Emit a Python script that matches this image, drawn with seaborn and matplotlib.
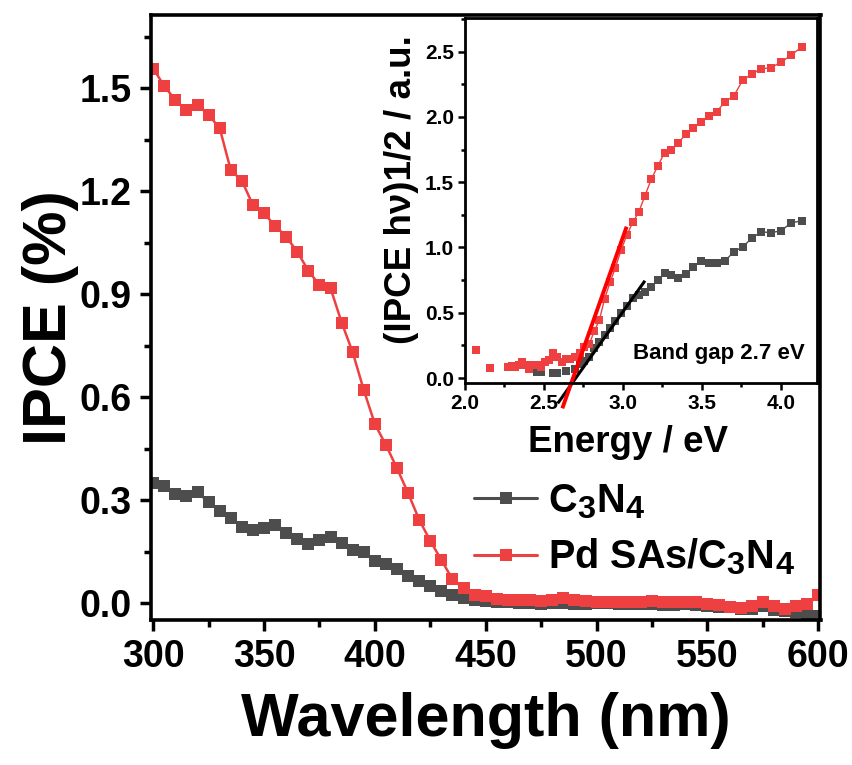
import numpy as np
import pandas as pd
import matplotlib
matplotlib.use("Agg")
import matplotlib.pyplot as plt
import seaborn as sns
from matplotlib.lines import Line2D
from matplotlib.ticker import MultipleLocator, AutoMinorLocator, FormatStrFormatter

try:
    import matplotlib._mathtext as _mt
    _mt.SHRINK_FACTOR = 0.82
except Exception:
    pass

# ---------------- data ----------------
wavelength = list(range(300, 601, 5))

ipce_c3n4 = [0.350, 0.340, 0.318, 0.311, 0.322, 0.294, 0.267, 0.249, 0.221, 0.214,
             0.219, 0.226, 0.204, 0.187, 0.171, 0.185, 0.191, 0.175, 0.154, 0.150,
             0.122, 0.113, 0.100, 0.080, 0.064, 0.049, 0.035, 0.024, 0.016, 0.009,
             0.006, 0.004, 0.002, 0.000, 0.001, -0.002, 0.001, 0.001, -0.002, -0.003,
             0.001, 0.001, -0.002, -0.003, -0.004, -0.004, -0.007, -0.005, -0.004, -0.006,
             -0.009, -0.011, -0.013, -0.016, -0.018, -0.008, -0.020, -0.024, -0.027, -0.031,
             -0.037]

ipce_pd = [1.557, 1.506, 1.465, 1.436, 1.451, 1.422, 1.383, 1.261, 1.230, 1.159,
           1.135, 1.099, 1.067, 1.023, 0.968, 0.926, 0.917, 0.817, 0.730, 0.620,
           0.521, 0.460, 0.392, 0.320, 0.242, 0.181, 0.125, 0.069, 0.043, 0.022,
           0.020, 0.013, 0.010, 0.008, 0.008, 0.006, 0.010, 0.014, 0.008, 0.006,
           0.003, 0.004, 0.004, 0.002, 0.004, 0.006, 0.004, 0.003, 0.004, 0.003,
           -0.004, -0.006, -0.012, -0.015, -0.008, 0.003, -0.010, -0.018, -0.010, -0.004,
           0.022]

energy = [4.133, 4.066, 4.000, 3.937, 3.875, 3.815, 3.758, 3.701, 3.647, 3.594,
          3.543, 3.493, 3.444, 3.397, 3.351, 3.307, 3.263, 3.221, 3.179, 3.139,
          3.100, 3.062, 3.024, 2.988, 2.952, 2.918, 2.884, 2.851, 2.818, 2.787,
          2.756, 2.725, 2.696, 2.667, 2.638, 2.611, 2.583, 2.557, 2.531, 2.505,
          2.480, 2.455, 2.431, 2.408, 2.385, 2.362, 2.340, 2.318, 2.296, 2.275,
          2.255, 2.234, 2.214, 2.195, 2.175, 2.157, 2.138, 2.120, 2.102, 2.084,
          2.067]

nan = float("nan")
tauc_pd = [2.537, 2.474, 2.418, 2.377, 2.368, 2.329, 2.280, 2.160, 2.117, 2.041,
           2.003, 1.960, 1.918, 1.866, 1.803, 1.748, 1.725, 1.626, 1.522, 1.396,
           1.272, 1.192, 1.094, 0.981, 0.846, 0.732, 0.609, 0.446, 0.358, 0.262,
           0.240, 0.190, 0.160, 0.146, 0.145, 0.125, 0.160, 0.189, 0.140, 0.123,
           0.086, 0.099, 0.099, 0.069, 0.098, 0.119, 0.097, 0.083, 0.096, 0.083,
           nan, nan, nan, nan, nan, 0.080, nan, nan, nan, nan,
           0.214]

tauc_c3n4 = [1.204, 1.189, 1.128, 1.113, 1.120, 1.070, 1.005, 0.967, 0.898, 0.878,
             0.883, 0.896, 0.848, 0.796, 0.763, 0.789, 0.802, 0.750, 0.699, 0.660,
             0.636, 0.610, 0.555, 0.500, 0.440, 0.380, 0.330, 0.278, 0.227, 0.163,
             0.130, 0.104, 0.073, nan, 0.051, nan, 0.040, 0.040, nan, nan,
             0.048, 0.050, nan, nan, nan, nan, nan, nan, nan, nan,
             nan, nan, nan, nan, nan, 0.074, nan, nan, nan, nan,
             nan]

fit_pd_E = [2.616, 3.023]
fit_pd_v = [-0.232, 1.159]
fit_c3n4_E = [2.587, 3.139]
fit_c3n4_v = [-0.194, 0.745]

labels = [r"C$_\mathbf{3}$N$_\mathbf{4}$", r"Pd SAs/C$_\mathbf{3}$N$_\mathbf{4}$"]
gray = "#4D4D4D"
red = "#EE4040"

# ---------------- style ----------------
sns.set_theme(style="ticks")
plt.rcParams["font.family"] = ["Liberation Sans", "DejaVu Sans"]
plt.rcParams["font.weight"] = "bold"
plt.rcParams["axes.labelweight"] = "bold"
plt.rcParams["text.color"] = "black"
plt.rcParams["axes.labelcolor"] = "black"
plt.rcParams["xtick.color"] = "black"
plt.rcParams["ytick.color"] = "black"
plt.rcParams["axes.edgecolor"] = "black"
plt.rcParams["mathtext.fontset"] = "custom"
plt.rcParams["mathtext.bf"] = "Liberation Sans:bold"
plt.rcParams["mathtext.rm"] = "Liberation Sans:bold"
plt.rcParams["mathtext.default"] = "bf"

fig = plt.figure(figsize=(8.53, 7.65), dpi=100)
fig.patch.set_facecolor("white")

# ---------------- main axes ----------------
ax = fig.add_axes([151 / 853, (765 - 620) / 765, (820.5 - 151) / 853, (620 - 15) / 765])
df = pd.DataFrame({
    "wl": wavelength + wavelength,
    "ipce": ipce_c3n4 + ipce_pd,
    "sample": ["C3N4"] * len(wavelength) + ["Pd"] * len(wavelength),
})
sns.lineplot(data=df, x="wl", y="ipce", hue="sample", hue_order=["C3N4", "Pd"],
             palette=[gray, red], marker="s", markersize=8.5, markeredgewidth=0,
             linewidth=1.8, ax=ax, legend=False, sort=True)

ax.set_xlim(299, 601)
ax.set_ylim(-0.0495, 1.713)
ax.xaxis.set_major_locator(MultipleLocator(50))
ax.xaxis.set_minor_locator(AutoMinorLocator(2))
ax.yaxis.set_major_locator(MultipleLocator(0.3))
ax.yaxis.set_minor_locator(AutoMinorLocator(2))
ax.yaxis.set_major_formatter(FormatStrFormatter("%.1f"))
ax.tick_params(which="major", direction="out", length=8, width=2.5, labelsize=27, pad=6,
               colors="black")
ax.tick_params(which="minor", direction="out", length=5, width=2.5, colors="black")
for lab in ax.get_xticklabels() + ax.get_yticklabels():
    lab.set_fontweight("bold")
for s in ax.spines.values():
    s.set_linewidth(2.6)
    s.set_color("black")
ax.set_xlabel("Wavelength (nm)", fontsize=44, fontweight="bold", labelpad=12, color="black")
ax.set_ylabel("IPCE (%)", fontsize=44, fontweight="bold", labelpad=0, color="black")

handles = [Line2D([], [], color=gray, marker="s", markersize=9, markeredgewidth=0, linewidth=2.2),
           Line2D([], [], color=red, marker="s", markersize=9, markeredgewidth=0, linewidth=2.2)]
leg = ax.legend(handles, labels, loc="upper left",
                bbox_to_anchor=((474 - 151) / 669.5, (620 - 482) / 605),
                frameon=False, fontsize=28.5, handlelength=1.6, handletextpad=0.28,
                labelspacing=0.4, borderaxespad=0, borderpad=0)
for t in leg.get_texts():
    t.set_fontweight("bold")
    t.set_color("black")

# ---------------- inset ----------------
axi = fig.add_axes([465 / 853, (765 - 383) / 765, 352 / 853, 365 / 765])
axi.plot(energy, tauc_c3n4, color=gray, marker="s", markersize=6, markeredgewidth=0, linewidth=1.0)
axi.plot(energy, tauc_pd, color=red, marker="s", markersize=6, markeredgewidth=0, linewidth=1.0)
axi.plot(fit_c3n4_E, fit_c3n4_v, color="black", linewidth=2.2, clip_on=False, solid_capstyle="butt")
axi.plot(fit_pd_E, fit_pd_v, color="#FF0000", linewidth=2.8, clip_on=False, solid_capstyle="butt")
axi.set_xlim(2.0, 4.228)
axi.set_ylim(-0.038, 2.757)
axi.xaxis.set_major_locator(MultipleLocator(0.5))
axi.xaxis.set_minor_locator(AutoMinorLocator(2))
axi.yaxis.set_major_locator(MultipleLocator(0.5))
axi.yaxis.set_minor_locator(AutoMinorLocator(2))
axi.xaxis.set_major_formatter(FormatStrFormatter("%.1f"))
axi.yaxis.set_major_formatter(FormatStrFormatter("%.1f"))
axi.tick_params(which="major", direction="out", length=5, width=1.8, labelsize=15, pad=3,
                colors="black")
axi.tick_params(which="minor", direction="out", length=3, width=1.8, colors="black")
for lab in axi.get_xticklabels() + axi.get_yticklabels():
    lab.set_fontweight("bold")
for s in axi.spines.values():
    s.set_linewidth(2.0)
    s.set_color("black")
axi.set_xlabel("Energy / eV", fontsize=26.5, fontweight="bold", labelpad=8, color="black")
axi.set_ylabel("(IPCE h\u03bd)1/2 / a.u.", fontsize=26.5, fontweight="bold", labelpad=4,
               color="black")
axi.xaxis.set_label_coords((628 - 465) / 352, -0.115)
axi.yaxis.set_label_coords(-0.13, (383 - 190) / 365)
axi.text(0.965, 0.08, "Band gap 2.7 eV", transform=axi.transAxes, ha="right", va="center",
         fontsize=16, fontweight="bold", color="black")

fig.savefig("out.png", dpi=100, facecolor="white")
